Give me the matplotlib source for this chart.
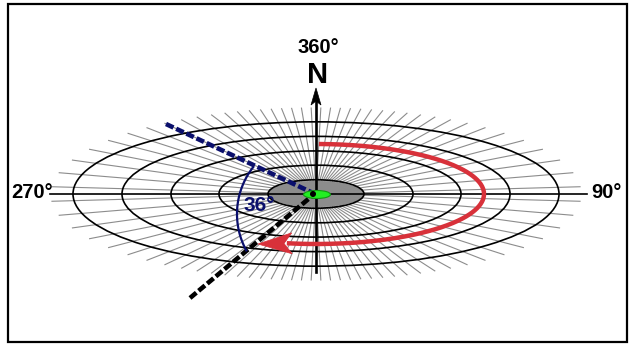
import numpy as np
import matplotlib
matplotlib.use("Agg")
import matplotlib.pyplot as plt
from matplotlib.patches import Ellipse, Polygon, Rectangle

plt.rcParams['font.family'] = ['Liberation Sans', 'DejaVu Sans']

# ---- geometry of the squashed compass rose (pixel units) ----
centre = (316, 194)
ring_a = [48, 97, 145, 194, 243]          # half-widths of the rings
ring_squash = 0.297                       # half-height / half-width
n_spokes = 80
spoke_dir_squash = 0.7
spoke_env = (265, 86)                     # where the spokes stop
inner_fill = (48, 13)

# labels
labels = ['360°', 'N', '270°', '90°']
angle_label = '36°'

# colours
red = '#d8313a'
navy = '#0a0f6c'
spoke_col = '#8c8c8c'

fig = plt.figure(figsize=(6.29, 3.44), dpi=100)
ax = fig.add_axes([0, 0, 1, 1])
ax.set_xlim(0, 629)
ax.set_ylim(344, 0)
ax.axis('off')

cx, cy = centre

# frame
ax.add_patch(Rectangle((8, 4), 619, 338, facecolor='none', edgecolor='black', lw=1.6))

# gray inner disc
ax.add_patch(Ellipse(centre, 2 * inner_fill[0], 2 * inner_fill[1],
                     facecolor='#8f8f8f', edgecolor='none', zorder=1))

# spokes
theta = np.linspace(0, 2 * np.pi, n_spokes, endpoint=False) + np.pi / n_spokes
dx = np.cos(theta)
dy = spoke_dir_squash * np.sin(theta)
# length to reach envelope ellipse
t = 1 / np.sqrt((dx / spoke_env[0]) ** 2 + (dy / spoke_env[1]) ** 2)
for x1, y1 in zip(cx + dx * t, cy + dy * t):
    ax.plot([cx, x1], [cy, y1], color=spoke_col, lw=0.8, zorder=2)

# rings
for a in ring_a:
    ax.add_patch(Ellipse(centre, 2 * a, 2 * a * ring_squash, facecolor='none',
                         edgecolor='black', lw=1.2, zorder=3))

# axes
ax.plot([50, 587], [cy, cy], color='black', lw=1.2, zorder=4)
ax.plot([cx, cx], [272, 100], color='black', lw=1.9, zorder=4)


def arrow_head(tip, direction, length, width, notch, color):
    d = np.array(direction, float)
    d /= np.hypot(*d)
    n = np.array([-d[1], d[0]])
    tip = np.array(tip, float)
    base = tip - d * length
    pts = [tip, base + n * width / 2, tip - d * (length - notch), base - n * width / 2]
    ax.add_patch(Polygon(pts, closed=True, facecolor=color, edgecolor=color,
                         lw=0.5, zorder=8))


arrow_head((cx, 88), (0, -1), 17, 10, 4, 'black')

# red rotation arrow (clockwise from north)
red_a, red_b = 168, 50
phi = np.linspace(np.deg2rad(1), np.deg2rad(190), 300)
ax.plot(cx + red_a * np.sin(phi), cy - red_b * np.cos(phi), color=red, lw=3.2,
        solid_capstyle='butt', zorder=6)
arrow_head((258, 244), (-1, 0.02), 34, 21, 8, red)

# navy reference line and black bearing line
dash = (0, (1.8, 0.65))
ax.plot([166, 313], [124, 193], color=navy, lw=3.3, linestyle=dash, zorder=6)
ax.plot([190, 312], [298, 196], color='black', lw=3.3, linestyle=dash, zorder=6)

# angle arc
arc_c, arc_r = (313, 214), 76
psi = np.deg2rad(np.linspace(151.4, 218.1, 100))
ax.plot(arc_c[0] + arc_r * np.cos(psi), arc_c[1] + arc_r * np.sin(psi),
        color=navy, lw=1.6, zorder=6)

# green marker and dot
ax.add_patch(Ellipse((317, 194.5), 27, 8, facecolor='#22ee22',
                     edgecolor='#119911', lw=0.8, zorder=7))
ax.add_patch(Ellipse((313, 194), 6, 6, facecolor='black', edgecolor='none', zorder=9))

# text
ax.text(318, 53, labels[0], ha='center', va='baseline', fontsize=14.5, weight='bold')
ax.text(318, 83, labels[1], ha='center', va='baseline', fontsize=21, weight='bold')
ax.text(11, 198, labels[2], ha='left', va='baseline', fontsize=14.5, weight='bold')
ax.text(591, 198, labels[3], ha='left', va='baseline', fontsize=14.5, weight='bold')
ax.text(243, 211, angle_label, ha='left', va='baseline', fontsize=15,
        weight='bold', color=navy, zorder=9)

fig.savefig('out.png', dpi=100)
